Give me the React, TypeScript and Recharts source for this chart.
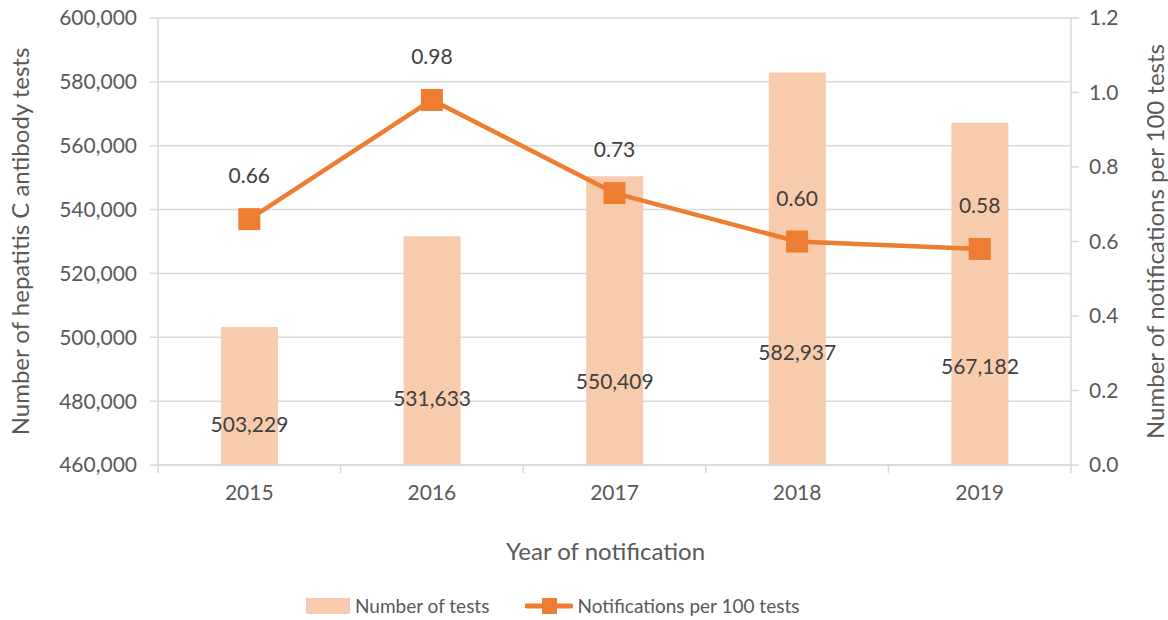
import React from "react";
import {
  ComposedChart,
  Bar,
  Line,
  XAxis,
  YAxis,
  CartesianGrid,
  Legend,
  LabelList,
} from "recharts";

const years = ["2015", "2016", "2017", "2018", "2019"];
const testCounts = [503229, 531633, 550409, 582937, 567182];
const notificationsPer100 = [0.66, 0.98, 0.73, 0.6, 0.58];
const leftTicks = [460000, 480000, 500000, 520000, 540000, 560000, 580000, 600000];
const rightTicks = [0, 0.2, 0.4, 0.6, 0.8, 1.0, 1.2];

const data = years.map((year, i) => ({
  year,
  tests: testCounts[i],
  rate: notificationsPer100[i],
}));

const FONT = "Lato, 'Open Sans', sans-serif";
const TEXT = "#595959";
const GRID = "#D9D9D9";
const BAR = "#F8CBAD";
const LINE = "#ED7D31";

const fmt = (v: number) => v.toLocaleString("en-US");

const BarValueLabel = (props: any) => {
  const { x, y, width, height, value } = props;
  return (
    <text
      x={x + width / 2}
      y={y + height * 0.72}
      textAnchor="middle"
      dominantBaseline="middle"
      fill="#404040"
      fontSize={21}
      fontFamily={FONT}
    >
      {fmt(value)}
    </text>
  );
};

const SquareDot = (props: any) => {
  const { cx, cy } = props;
  if (cx == null || cy == null) return null;
  return <rect x={cx - 11} y={cy - 11} width={22} height={22} fill={LINE} />;
};

// year label plus the short tick marks Excel puts between categories
const YearTick = (props: any) => {
  const { x, y, payload, index, visibleTicksCount } = props;
  const half = payload?.offset ?? 0;
  const isLast = index === visibleTicksCount - 1;
  return (
    <g>
      <line x1={x - half} y1={y} x2={x - half} y2={y + 8} stroke={GRID} strokeWidth={1.5} />
      {isLast && (
        <line x1={x + half} y1={y} x2={x + half} y2={y + 8} stroke={GRID} strokeWidth={1.5} />
      )}
      <text
        x={x}
        y={y + 20}
        dy="0.71em"
        textAnchor="middle"
        fill={TEXT}
        fontSize={21}
        fontFamily={FONT}
      >
        {payload.value}
      </text>
    </g>
  );
};

const LegendContent = () => (
  <div
    style={{
      display: "flex",
      justifyContent: "flex-start",
      alignItems: "center",
      paddingLeft: 306,
      paddingTop: 10,
      gap: 36,
      fontFamily: FONT,
      fontSize: 19,
      color: TEXT,
    }}
  >
    <div style={{ display: "flex", alignItems: "center", gap: 5 }}>
      <div style={{ width: 44, height: 16, background: BAR }} />
      <span>Number of tests</span>
    </div>
    <div style={{ display: "flex", alignItems: "center", gap: 4 }}>
      <svg width={48} height={22}>
        <line x1={2} y1={11} x2={46} y2={11} stroke={LINE} strokeWidth={5} strokeLinecap="round" />
        <rect x={17} y={3} width={15} height={16} fill={LINE} />
      </svg>
      <span>Notifications per 100 tests</span>
    </div>
  </div>
);

export default function App() {
  return (
    <div style={{ position: "absolute", left: 0, top: 0, width: 1168, height: 620, background: "#fff" }}>
      <ComposedChart
        width={1168}
        height={620}
        data={data}
        margin={{ top: 18, right: 0, left: 0, bottom: 0 }}
      >
        <CartesianGrid stroke={GRID} strokeWidth={1.5} vertical={false} yAxisId="left" />
        <XAxis
          dataKey="year"
          height={119}
          tickLine={false}
          axisLine={{ stroke: GRID, strokeWidth: 1.5 }}
          tickSize={0}
          tickMargin={0}
          interval={0}
          tick={<YearTick />}
          label={{
            value: "Year of notification",
            position: "insideBottom",
            offset: 24,
            dx: -9,
            style: { fill: TEXT, fontSize: 24, fontFamily: FONT },
          }}
        />
        <YAxis
          yAxisId="left"
          width={158}
          domain={[460000, 600000]}
          ticks={leftTicks}
          interval={0}
          tickFormatter={fmt}
          tickSize={8}
          tickMargin={13}
          tickLine={{ stroke: GRID, strokeWidth: 1.5 }}
          axisLine={{ stroke: GRID, strokeWidth: 1.5 }}
          tick={{ fill: TEXT, fontSize: 21, fontFamily: FONT }}
          allowDataOverflow
          label={{
            value: "Number of hepatitis C antibody tests",
            angle: -90,
            position: "center",
            dx: -59,
            style: { fill: TEXT, fontSize: 24, fontFamily: FONT, textAnchor: "middle" },
          }}
        />
        <YAxis
          yAxisId="right"
          orientation="right"
          width={97}
          domain={[0, 1.2]}
          ticks={rightTicks}
          interval={0}
          tickFormatter={(v: number) => v.toFixed(1)}
          tickSize={8}
          tickMargin={10}
          tickLine={{ stroke: GRID, strokeWidth: 1.5 }}
          axisLine={{ stroke: GRID, strokeWidth: 1.5 }}
          tick={{ fill: TEXT, fontSize: 21, fontFamily: FONT }}
          label={{
            value: "Number of notifications per 100 tests",
            angle: -90,
            position: "center",
            dx: 36,
            style: { fill: TEXT, fontSize: 24, fontFamily: FONT, textAnchor: "middle" },
          }}
        />
        <Legend verticalAlign="bottom" height={36} content={<LegendContent />} />
        <Bar yAxisId="left" dataKey="tests" fill={BAR} barSize={57} isAnimationActive={false}>
          <LabelList dataKey="tests" content={<BarValueLabel />} />
        </Bar>
        <Line
          yAxisId="right"
          dataKey="rate"
          type="linear"
          stroke={LINE}
          strokeWidth={4.5}
          dot={<SquareDot />}
          activeDot={false}
          isAnimationActive={false}
        >
          <LabelList
            dataKey="rate"
            position="top"
            offset={36}
            formatter={(v: number) => v.toFixed(2)}
            style={{ fill: "#404040", fontSize: 21, fontFamily: FONT }}
          />
        </Line>
      </ComposedChart>
    </div>
  );
}
